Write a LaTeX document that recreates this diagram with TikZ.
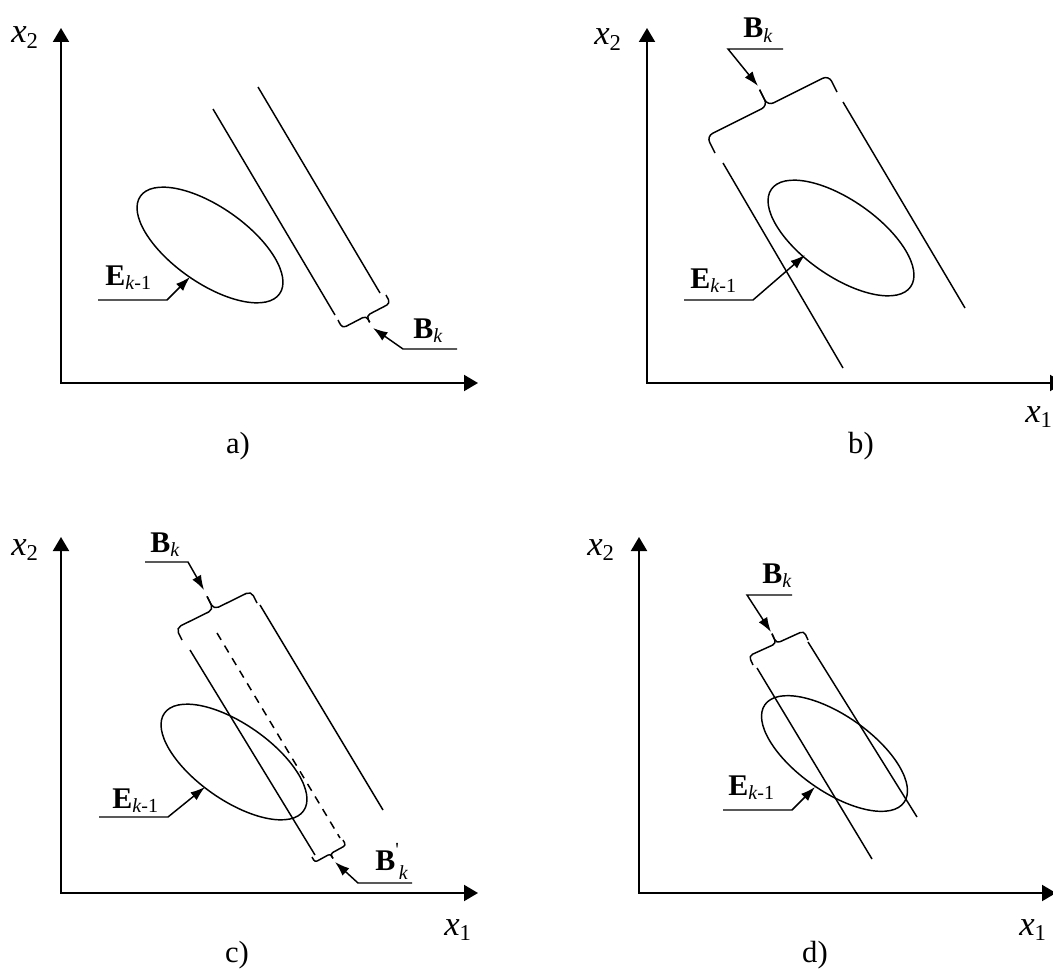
\documentclass[tikz,border=0pt]{standalone}
\usepackage{fontspec}
\setmainfont{Liberation Serif}
\usetikzlibrary{arrows.meta,calc}
\newcommand{\lsub}[1]{\raisebox{-3.5pt}{\fontsize{15}{15}\selectfont #1}}
\newcommand{\asub}[1]{\raisebox{-4pt}{\fontsize{17}{17}\selectfont #1}}
\newcommand{\Ekm}{\textbf{E}\lsub{\textit{k}-1}}
\newcommand{\Bkk}{\textbf{B}\lsub{\textit{k}}}
\newcommand{\Bkp}{\textbf{B}\raisebox{10pt}{\fontsize{15}{15}\selectfont\textquotesingle}\raisebox{-7pt}{\fontsize{15}{15}\selectfont\textit{k}}}
\newcommand{\xtwo}{\textit{x}\asub{2}}
\newcommand{\xone}{\textit{x}\asub{1}}
% manual brace: #1 start, #2 end, #3 half amplitude, #4 full amplitude, #5 prefix, #6 corner radius
\newcommand{\bracedraw}[6]{%
  \coordinate (#5ha) at ($(#1)!#3!90:(#2)$);
  \coordinate (#5mid) at ($(#1)!0.5!(#2)$);
  \coordinate (#5hm) at ($(#5mid)!#3!90:(#2)$);
  \coordinate (#5tip) at ($(#5mid)!#4!90:(#2)$);
  \coordinate (#5hb) at ($(#2)!#3!-90:(#1)$);
  \draw[bound,rounded corners=#6] (#1) -- (#5ha) -- (#5hm) -- (#5tip);
  \draw[bound,rounded corners=#6] (#5tip) -- (#5hm) -- (#5hb) -- (#2);
}
\begin{document}
\begin{tikzpicture}[x=0.75pt,y=-0.75pt,
  axis/.style={line width=1.5pt,{Triangle[length=10.5pt,width=12pt]}-{Triangle[length=10.5pt,width=12pt]}},
  bound/.style={line width=1.1pt},
  dbound/.style={line width=1.1pt,dash pattern=on 6pt off 5pt},
  ell/.style={line width=1.1pt},
  pointer/.style={line width=1.1pt,-{Latex[length=11pt,width=7.5pt]}},
  lbl/.style={anchor=base west,inner sep=0pt,font=\fontsize{22.5}{27}\selectfont},
  axl/.style={anchor=base west,inner sep=0pt,font=\fontsize{26}{30}\selectfont},
  captxt/.style={anchor=base,inner sep=0pt,font=\fontsize{23}{27}\selectfont},
]
\useasboundingbox (0,0) rectangle (1053,970);

% ---------------- panel a ----------------
\coordinate (aO) at (61,383);
\coordinate (aY) at (61,28);
\coordinate (aX) at (478,383);
\draw[axis] (aY) -- (aO) -- (aX);
\node[axl] (ax2) at (11,43) {\xtwo};
\coordinate (aL1s) at (213,109); \coordinate (aL1e) at (335,315);
\coordinate (aL2s) at (258,87);  \coordinate (aL2e) at (380,293);
\draw[bound] (aL1s) -- (aL1e);
\draw[bound] (aL2s) -- (aL2e);
\coordinate (aBr1) at (386,295); \coordinate (aBr2) at (338,320);
\bracedraw{aBr1}{aBr2}{7pt}{12.5pt}{aB}{3pt}
\coordinate (aEc) at (210,245);
\draw[ell,rotate around={-35:(aEc)}] (aEc) ellipse [x radius=85, y radius=38];
\node[lbl] (aEk) at (105,285) {\Ekm};
\coordinate (aEp1) at (98,300); \coordinate (aEp2) at (167,300); \coordinate (aEt) at (190,277);
\draw[pointer] (aEp1) -- (aEp2) -- (aEt);
\node[lbl] (aBk) at (413,338) {\Bkk};
\coordinate (aBp1) at (457,349); \coordinate (aBp2) at (403,349); \coordinate (aBt) at (373,328);
\draw[pointer] (aBp1) -- (aBp2) -- (aBt);
\node[captxt] (acap) at (238,453) {a)};

% ---------------- panel b ----------------
\coordinate (bO) at (647,383);
\coordinate (bY) at (647,28);
\coordinate (bX) at (1064,383);
\draw[axis] (bY) -- (bO) -- (bX);
\node[axl] (bx2) at (594,45) {\xtwo};
\node[axl] (bx1) at (1025,422) {\xone};
\coordinate (bL1s) at (723,163); \coordinate (bL1e) at (843,368);
\coordinate (bL2s) at (843,102); \coordinate (bL2e) at (965,308);
\draw[bound] (bL1s) -- (bL1e);
\draw[bound] (bL2s) -- (bL2e);
\coordinate (bBr1) at (715,153); \coordinate (bBr2) at (837,92);
\bracedraw{bBr1}{bBr2}{14pt}{27.5pt}{bB}{5pt}
\coordinate (bEc) at (841,238);
\draw[ell,rotate around={-35:(bEc)}] (bEc) ellipse [x radius=85, y radius=38];
\node[lbl] (bBk) at (743,38) {\Bkk};
\coordinate (bBp1) at (783,49); \coordinate (bBp2) at (728,49); \coordinate (bBt) at (758,86);
\draw[pointer] (bBp1) -- (bBp2) -- (bBt);
\node[lbl] (bEk) at (690,288) {\Ekm};
\coordinate (bEp1) at (684,300); \coordinate (bEp2) at (753,300); \coordinate (bEt) at (805,255);
\draw[pointer] (bEp1) -- (bEp2) -- (bEt);
\node[captxt] (bcap) at (861,453) {b)};

% ---------------- panel c ----------------
\coordinate (cO) at (61,893);
\coordinate (cY) at (61,537);
\coordinate (cX) at (478,893);
\draw[axis] (cY) -- (cO) -- (cX);
\node[axl] (cx2) at (11,555) {\xtwo};
\node[axl] (cx1) at (444,935) {\xone};
\coordinate (cL1s) at (190,650); \coordinate (cL1e) at (315,855);
\coordinate (cLds) at (217,633); \coordinate (cLde) at (340,838);
\coordinate (cL2s) at (260,605); \coordinate (cL2e) at (383,810);
\draw[bound] (cL1s) -- (cL1e);
\draw[dbound] (cLds) -- (cLde);
\draw[bound] (cL2s) -- (cL2e);
\coordinate (cBr1) at (182,640); \coordinate (cBr2) at (257,603);
\bracedraw{cBr1}{cBr2}{10pt}{21pt}{cBu}{4pt}
\coordinate (cBr3) at (343,840); \coordinate (cBr4) at (312,857);
\bracedraw{cBr3}{cBr4}{4.5pt}{8.5pt}{cBl}{2pt}
\coordinate (cEc) at (234,762);
\draw[ell,rotate around={-35:(cEc)}] (cEc) ellipse [x radius=85, y radius=38];
\node[lbl] (cBk) at (150,552) {\Bkk};
\coordinate (cBp1) at (145,562); \coordinate (cBp2) at (188,562); \coordinate (cBt) at (204,590);
\draw[pointer] (cBp1) -- (cBp2) -- (cBt);
\node[lbl] (cEk) at (112,808) {\Ekm};
\coordinate (cEp1) at (99,817); \coordinate (cEp2) at (168,817); \coordinate (cEt) at (205,787);
\draw[pointer] (cEp1) -- (cEp2) -- (cEt);
\node[lbl] (cBkp) at (375,870) {\Bkp};
\coordinate (cPp1) at (412,883); \coordinate (cPp2) at (358,883); \coordinate (cPt) at (335,862);
\draw[pointer] (cPp1) -- (cPp2) -- (cPt);
\node[captxt] (ccap) at (237,962) {c)};

% ---------------- panel d ----------------
\coordinate (dO) at (639,893);
\coordinate (dY) at (639,537);
\coordinate (dX) at (1056,893);
\draw[axis] (dY) -- (dO) -- (dX);
\node[axl] (dx2) at (587,555) {\xtwo};
\node[axl] (dx1) at (1019,935) {\xone};
\coordinate (dL1s) at (757,668); \coordinate (dL1e) at (872,859);
\coordinate (dL2s) at (808,642); \coordinate (dL2e) at (917,817);
\draw[bound] (dL1s) -- (dL1e);
\draw[bound] (dL2s) -- (dL2e);
\coordinate (dBr1) at (753,665); \coordinate (dBr2) at (808,640);
\bracedraw{dBr1}{dBr2}{7.5pt}{15.5pt}{dB}{3pt}
\coordinate (dEc) at (834.5,753.5);
\draw[ell,rotate around={-35:(dEc)}] (dEc) ellipse [x radius=85, y radius=38];
\node[lbl] (dBk) at (762,583) {\Bkk};
\coordinate (dBp1) at (792,595); \coordinate (dBp2) at (747,595); \coordinate (dBt) at (771,632);
\draw[pointer] (dBp1) -- (dBp2) -- (dBt);
\node[lbl] (dEk) at (728,795) {\Ekm};
\coordinate (dEp1) at (723,810); \coordinate (dEp2) at (792,810); \coordinate (dEt) at (815,787);
\draw[pointer] (dEp1) -- (dEp2) -- (dEt);
\node[captxt] (dcap) at (815,962) {d)};
\end{tikzpicture}
\end{document}
